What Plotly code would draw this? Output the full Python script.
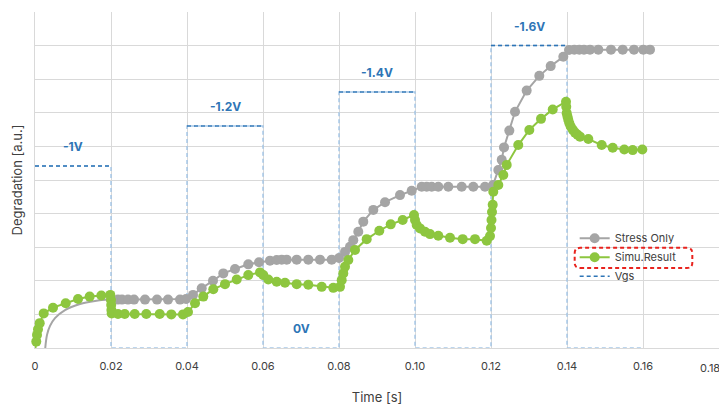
import plotly.graph_objects as go

# ---------------- data ----------------
# Stress-only: smooth initial curve (no markers)
stress_fit_t = [0.00263, 0.00316, 0.00395, 0.00526, 0.00789, 0.01184, 0.01579, 0.0200]
stress_fit_y = [-0.09, 0.39, 0.66, 0.89, 1.13, 1.31, 1.40, 1.45]

# Stress-only: measured points
stress_t = [0.0200, 0.02184, 0.02289, 0.02447, 0.02605, 0.02895, 0.03211, 0.03500, 0.03816,
            0.03974, 0.04158, 0.04387, 0.04684, 0.04955, 0.05263, 0.05613, 0.05895,
            0.06184, 0.0636, 0.06492, 0.06624, 0.06887, 0.07192, 0.0750, 0.07808,
            0.0800, 0.08158, 0.08289, 0.08376, 0.08508, 0.08639, 0.08903, 0.09211,
            0.09605, 0.09913, 0.10176, 0.10308, 0.10439, 0.10613, 0.10876, 0.11229,
            0.11534, 0.11842, 0.12053, 0.12192, 0.12282, 0.12342, 0.12482, 0.12632,
            0.12939, 0.13271, 0.13571, 0.13903, 0.14053, 0.14192, 0.14324, 0.14447,
            0.14605, 0.14824, 0.15158, 0.15466, 0.15763, 0.16008, 0.16184]
stress_y = [1.45, 1.44, 1.44, 1.44, 1.44, 1.44, 1.44, 1.44, 1.44,
            1.46, 1.58, 1.78, 2.00, 2.22, 2.35, 2.49, 2.55,
            2.60, 2.62, 2.63, 2.63, 2.63, 2.63, 2.63, 2.63,
            2.68, 2.86, 3.01, 3.21, 3.46, 3.76, 4.11, 4.34,
            4.55, 4.68, 4.80, 4.80, 4.80, 4.80, 4.80, 4.80,
            4.80, 4.80, 4.85, 5.30, 5.60, 5.97, 6.47, 7.03,
            7.66, 8.10, 8.39, 8.67, 8.87, 8.88, 8.88, 8.88,
            8.88, 8.88, 8.88, 8.88, 8.88, 8.88, 8.88]

# Simulation result
simu_t = [0.0000, 0.00034, 0.00053, 0.00079, 0.00124, 0.00229, 0.00474, 0.00808, 0.01132,
          0.01439, 0.01745, 0.01982, 0.0200, 0.02005, 0.0201, 0.02018, 0.02184, 0.02361,
          0.02624, 0.02929, 0.03282, 0.03587, 0.03895,
          0.04026, 0.04211, 0.04429, 0.04692, 0.0500, 0.05308, 0.05613, 0.05921,
          0.06008, 0.06139, 0.0636, 0.06579, 0.06887, 0.07192, 0.07545, 0.0785, 0.08026,
          0.08071, 0.08113, 0.08158, 0.08245, 0.08421, 0.08729, 0.09061, 0.09361, 0.09676,
          0.09974, 0.1000, 0.10045, 0.10132, 0.10263, 0.10395, 0.10613, 0.10921, 0.11255,
          0.11579, 0.11887, 0.11974, 0.1200, 0.12013, 0.12026, 0.12045, 0.1206, 0.12192,
          0.12324, 0.12413, 0.12718, 0.13008, 0.13316, 0.13624, 0.13974,
          0.1398, 0.13992, 0.14012, 0.14034, 0.14063, 0.14097, 0.14150, 0.14211, 0.14275,
          0.14342, 0.14561, 0.14913, 0.15203, 0.15508, 0.15729, 0.15982]
simu_y = [-0.10, 0.19, 0.39, 0.56, 0.74, 1.03, 1.20, 1.33, 1.46,
          1.53, 1.56, 1.58, 1.43, 1.28, 1.13, 1.03, 1.01, 1.01,
          1.01, 1.01, 1.01, 1.00, 1.00,
          1.07, 1.33, 1.53, 1.75, 1.90, 2.04, 2.17, 2.25,
          2.17, 2.04, 1.97, 1.94, 1.90, 1.88, 1.82, 1.79, 1.82,
          2.02, 2.22, 2.42, 2.62, 2.92, 3.24, 3.49, 3.68, 3.81,
          3.96, 3.81, 3.66, 3.56, 3.46, 3.39, 3.34, 3.28, 3.24,
          3.24, 3.19, 3.33, 3.57, 3.81, 4.05, 4.26, 4.65, 4.85,
          5.15, 5.45, 6.04, 6.49, 6.82, 7.10, 7.33,
          7.18, 6.99, 6.89, 6.79, 6.69, 6.59, 6.50, 6.41, 6.35,
          6.29, 6.22, 6.04, 5.96, 5.91, 5.89, 5.91]

# Gate voltage pulses
vgs_start = [0.00, 0.04, 0.08, 0.12]
vgs_width = 0.02
vgs_level = [5.42, 6.61, 7.62, 9.00]
vgs_label = ["-1V", "-1.2V", "-1.4V", "-1.6V"]
vgs_end = 0.16
off_label = "0V"

x_ticks = [0, 0.02, 0.04, 0.06, 0.08, 0.10, 0.12, 0.14, 0.16, 0.18]
x_tick_text = ["0", "0.02", "0.04", "0.06", "0.08", "0.10", "0.12", "0.14", "0.16", "0.18"]

# ---------------- figure ----------------
FONT = "Inter, Lato, sans-serif"
DARK_BLUE = "#2E75B6"
LIGHT_BLUE = "rgba(157,195,230,0.9)"
GRAY = "#A5A5A5"
GREEN = "#8DC63F"
DASH = "4px,3px"
TICK_FONT = dict(family=FONT, size=11, color="#404040")

# full step waveform
step_x, step_y = [], []
for s, lv in zip(vgs_start, vgs_level):
    step_x += [s, s, s + vgs_width, s + vgs_width]
    step_y += [0, lv, lv, 0]
step_x.append(vgs_end)
step_y.append(0)

# high segments
high_x, high_y = [], []
for s, lv in zip(vgs_start, vgs_level):
    high_x += [s, s + vgs_width, None]
    high_y += [lv, lv, None]

fig = go.Figure()
fig.add_trace(go.Scatter(x=step_x[1:], y=step_y[1:], mode="lines", showlegend=False,
                         line=dict(color=LIGHT_BLUE, width=1.5, dash=DASH),
                         hoverinfo="skip", cliponaxis=False))
fig.add_trace(go.Scatter(x=high_x, y=high_y, mode="lines", name="Vgs", legendrank=3,
                         line=dict(color=DARK_BLUE, width=1.5, dash=DASH),
                         cliponaxis=False))
fig.add_trace(go.Scatter(x=stress_fit_t, y=stress_fit_y, mode="lines", showlegend=False,
                         line=dict(color=GRAY, width=2, shape="spline"), cliponaxis=False))
fig.add_trace(go.Scatter(x=stress_t, y=stress_y, mode="lines+markers", name="Stress Only",
                         legendrank=1,
                         line=dict(color=GRAY, width=2),
                         marker=dict(color=GRAY, size=10), cliponaxis=False))
fig.add_trace(go.Scatter(x=simu_t, y=simu_y, mode="lines+markers", name="Simu.Result",
                         legendrank=2,
                         line=dict(color=GREEN, width=2),
                         marker=dict(color=GREEN, size=10), cliponaxis=False))

annotations = []
for s, lv, lab in zip(vgs_start, vgs_level, vgs_label):
    annotations.append(dict(x=s + vgs_width / 2, y=lv, text="<b>%s</b>" % lab, showarrow=False,
                            yshift=19, font=dict(family=FONT, size=12, color=DARK_BLUE)))
annotations.append(dict(x=vgs_start[1] + 1.5 * vgs_width, y=0, text="<b>%s</b>" % off_label,
                        showarrow=False, yshift=20,
                        font=dict(family=FONT, size=12, color=DARK_BLUE)))
# last tick label sits at the very right edge of the page
annotations.append(dict(x=x_ticks[-1], xref="x", y=0, yref="paper", text=x_tick_text[-1],
                        showarrow=False, xanchor="right", xshift=3, yanchor="middle",
                        yshift=-20, font=TICK_FONT))
shown_tick_text = x_tick_text[:-1] + [""]

# red dashed rounded box around Simu.Result legend entry (paper coords)
x0, x1, y0, y1 = 0.789, 0.961, 0.238, 0.298
rx, ry = 0.008, 0.016
path = (f"M {x0+rx},{y0} L {x1-rx},{y0} Q {x1},{y0} {x1},{y0+ry} L {x1},{y1-ry} "
        f"Q {x1},{y1} {x1-rx},{y1} L {x0+rx},{y1} Q {x0},{y1} {x0},{y1-ry} "
        f"L {x0},{y0+ry} Q {x0},{y0} {x0+rx},{y0} Z")

# the page adds an 8px body margin, so the figure is 8px smaller and offset
fig.update_layout(
    width=719, height=397,
    margin=dict(l=27, r=8, t=4, b=57, autoexpand=False),
    paper_bgcolor="white", plot_bgcolor="white",
    font=dict(family=FONT, size=11, color="#404040"),
    showlegend=True,
    legend=dict(x=0.789, y=0.37, xanchor="left", yanchor="top",
                bgcolor="rgba(0,0,0,0)", font=dict(family=FONT, size=11, color="#404040"),
                itemwidth=30, tracegroupgap=0),
    annotations=annotations,
    shapes=[dict(type="path", xref="paper", yref="paper", path=path,
                 line=dict(color="#E8231E", width=2, dash="4px,3px"))],
    xaxis=dict(range=[0, 0.18], tickvals=x_ticks, ticktext=shown_tick_text,
               showgrid=True, gridcolor="#D9D9D9", gridwidth=1, layer="below traces",
               zeroline=False, showline=True, linecolor="#D9D9D9",
               ticks="outside", ticklen=8, tickcolor="rgba(0,0,0,0)",
               tickfont=TICK_FONT,
               title=dict(text="Time [s]", font=dict(family=FONT, size=13, color="#404040"),
                          standoff=21)),
    yaxis=dict(range=[0, 10], dtick=1, showticklabels=False, layer="below traces",
               showgrid=True, gridcolor="#D9D9D9", gridwidth=1,
               zeroline=False, showline=True, linecolor="#D9D9D9", mirror=False,
               title=dict(text="Degradation [a.u.]",
                          font=dict(family=FONT, size=13, color="#404040"), standoff=8)),
)

fig.write_html("out.html")
